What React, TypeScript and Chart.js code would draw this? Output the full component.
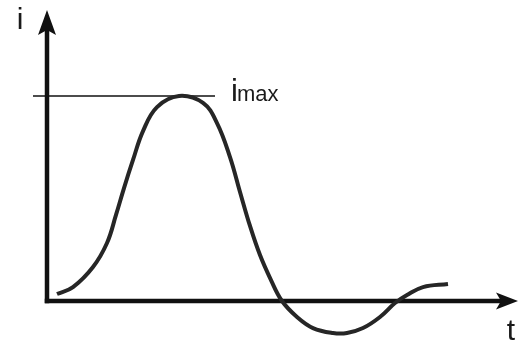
import React, { useEffect, useRef } from "react";
import { Chart, registerables } from "chart.js";

Chart.register(...registerables);

// Curve i(t) (t in arbitrary units, i relative to i_max)
const tValues = [0.25, 0.65, 1.15, 1.5, 1.725, 1.925, 2.15, 2.4, 2.75, 3.3, 3.9, 4.25, 4.575, 4.825, 5.075, 5.325, 5.6, 5.875, 6.25, 6.65, 7.15, 7.5, 7.9, 8.325, 8.7, 9.0, 9.4, 10.025];
const iValues = [0.034, 0.068, 0.166, 0.283, 0.42, 0.551, 0.688, 0.829, 0.946, 1.0, 0.966, 0.868, 0.702, 0.532, 0.366, 0.224, 0.102, 0.0, -0.078, -0.132, -0.156, -0.156, -0.132, -0.078, -0.01, 0.029, 0.068, 0.083];

// i_max reference line
const iMaxValue = 1.0;
const iMaxT = [-0.35, 4.2];
const iMaxLabel = ["i", "max"];

// Axes
const tAxisEnd = 11.775;
const iAxisEnd = 1.42;
const axisLabels = { t: "t", i: "i" };

const tRange = [-1.175, 11.825];
const iRange = [-0.2146, 1.4683];

const axesPlugin = {
  id: "arrowAxes",
  beforeDatasetsDraw(chart: any) {
    const { ctx, scales } = chart;
    const x = scales.x;
    const y = scales.y;
    const ox = x.getPixelForValue(0);
    const oy = y.getPixelForValue(0);
    const xEnd = x.getPixelForValue(tAxisEnd);
    const yEnd = y.getPixelForValue(iAxisEnd);
    ctx.save();
    ctx.strokeStyle = "#111";
    ctx.fillStyle = "#111";
    ctx.lineWidth = 4.5;
    ctx.lineCap = "butt";
    // y axis
    ctx.beginPath();
    ctx.moveTo(ox, oy + 2.25);
    ctx.lineTo(ox, yEnd + 15);
    ctx.stroke();
    // x axis
    ctx.beginPath();
    ctx.moveTo(ox - 2.25, oy);
    ctx.lineTo(xEnd - 15, oy);
    ctx.stroke();
    // y arrow head
    ctx.beginPath();
    ctx.moveTo(ox, yEnd);
    ctx.lineTo(ox + 9, yEnd + 25);
    ctx.lineTo(ox, yEnd + 20);
    ctx.lineTo(ox - 9, yEnd + 25);
    ctx.closePath();
    ctx.fill();
    // x arrow head
    ctx.beginPath();
    ctx.moveTo(xEnd, oy);
    ctx.lineTo(xEnd - 22, oy - 8.5);
    ctx.lineTo(xEnd - 17, oy);
    ctx.lineTo(xEnd - 22, oy + 8.5);
    ctx.closePath();
    ctx.fill();
    ctx.restore();
  },
  afterDraw(chart: any) {
    const { ctx, scales } = chart;
    const x = scales.x;
    const y = scales.y;
    const ox = x.getPixelForValue(0);
    const oy = y.getPixelForValue(0);
    const xEnd = x.getPixelForValue(tAxisEnd);
    const yEnd = y.getPixelForValue(iAxisEnd);
    ctx.save();
    ctx.fillStyle = "#1a1a1a";
    ctx.textBaseline = "alphabetic";
    ctx.font = '30px "Liberation Sans", Arial, sans-serif';
    ctx.textAlign = "center";
    ctx.fillText(axisLabels.i, ox - 27, yEnd + 19);
    ctx.fillText(axisLabels.t, xEnd - 7, oy + 39);
    // i_max label
    const lx = x.getPixelForValue(iMaxT[1]) + 16;
    const ly = y.getPixelForValue(iMaxValue) + 5;
    ctx.textAlign = "left";
    ctx.font = '31px "Liberation Sans", Arial, sans-serif';
    ctx.fillText(iMaxLabel[0], lx, ly);
    const w = ctx.measureText(iMaxLabel[0]).width;
    ctx.font = '22px "Liberation Sans", Arial, sans-serif';
    ctx.fillText(iMaxLabel[1], lx + w - 1, ly);
    ctx.restore();
  },
};

export default function App() {
  const ref = useRef<HTMLCanvasElement | null>(null);
  useEffect(() => {
    if (!ref.current) return;
    const chart = new Chart(ref.current, {
      type: "scatter",
      data: {
        datasets: [
          {
            data: tValues.map((t, k) => ({ x: t, y: iValues[k] })),
            showLine: true,
            borderColor: "#262626",
            borderWidth: 4,
            pointRadius: 0,
            tension: 0.4,
            fill: false,
            clip: false,
          } as any,
          {
            data: iMaxT.map((t) => ({ x: t, y: iMaxValue })),
            showLine: true,
            borderColor: "#111",
            borderWidth: 1.5,
            pointRadius: 0,
            fill: false,
            clip: false,
          } as any,
        ],
      },
      options: {
        animation: false,
        responsive: false,
        layout: { padding: 0 },
        plugins: { legend: { display: false }, tooltip: { enabled: false } },
        scales: {
          x: { type: "linear", min: tRange[0], max: tRange[1], display: false },
          y: { type: "linear", min: iRange[0], max: iRange[1], display: false },
        },
      },
      plugins: [axesPlugin],
    });
    return () => chart.destroy();
  }, []);
  return (
    <div style={{ position: "absolute", left: 0, top: 0, width: 520, height: 345, background: "#fff" }}>
      <canvas ref={ref} width={520} height={345} />
    </div>
  );
}
